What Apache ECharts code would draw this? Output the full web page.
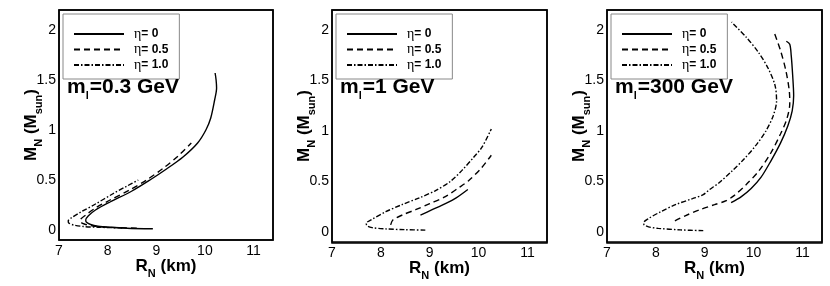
<!DOCTYPE html>
<html><head><meta charset="utf-8">
<script src="https://cdn.jsdelivr.net/npm/echarts@6/dist/echarts.min.js"></script>
<style>
html,body{margin:0;padding:0;background:#fff}
#wrap{position:relative;width:830px;height:286px}
#c,#t{position:absolute;left:0;top:0;width:830px;height:286px}
#t{pointer-events:none}
</style>
</head><body><div id="wrap"><div id="c"></div><div id="t"></div></div>
<script>
// ---------- data ----------
const xTicks = [7, 8, 9, 10, 11];
const yTicks = [0, 0.5, 1, 1.5, 2];
const seriesNames = ['η= 0', 'η= 0.5', 'η= 1.0'];
const panelMasses = ['0.3 GeV', '1 GeV', '300 GeV'];

// panel 1: m_l = 0.3 GeV   points are [R_N (km), M_N (M_sun)]
const p1Eta0 = [[8.93,0.013],[8.4,0.018],[8.05,0.027],[7.8,0.038],[7.65,0.055],[7.56,0.08],[7.55,0.1],[7.6,0.14],[7.75,0.2],[8.05,0.28],[8.5,0.39],[8.87,0.5],[9.21,0.61],[9.55,0.73],[9.85,0.87],[10.02,1.0],[10.12,1.12],[10.2,1.3],[10.24,1.42],[10.23,1.5],[10.21,1.57]];
const p1Eta05 = [[8.6,0.018],[8.0,0.028],[7.7,0.04],[7.52,0.06],[7.44,0.085],[7.45,0.11],[7.55,0.15],[7.75,0.22],[8.05,0.3],[8.45,0.4],[8.8,0.5],[9.15,0.62],[9.45,0.74],[9.72,0.87]];
const p1Eta10 = [[8.3,0.02],[7.8,0.028],[7.5,0.035],[7.3,0.05],[7.2,0.07],[7.19,0.09],[7.25,0.12],[7.45,0.18],[7.75,0.26],[8.1,0.36],[8.4,0.44],[8.63,0.5]];

// panel 2: m_l = 1 GeV
const p2Eta0 = [[8.81,0.167],[9.05,0.22],[9.32,0.28],[9.55,0.34],[9.78,0.42]];
const p2Eta05 = [[8.2,0.07],[8.25,0.12],[8.45,0.17],[8.71,0.22],[9.0,0.28],[9.32,0.35],[9.6,0.44],[9.8,0.51],[10.05,0.63],[10.26,0.76]];
const p2Eta10 = [[8.91,0.018],[8.5,0.022],[8.09,0.03],[7.82,0.042],[7.72,0.06],[7.7,0.085],[7.8,0.12],[8.1,0.2],[8.43,0.27],[8.8,0.34],[9.12,0.41],[9.42,0.5],[9.66,0.61],[9.9,0.74],[10.07,0.84],[10.26,1.02]];

// panel 3: m_l = 300 GeV
const p3Eta0 = [[9.54,0.29],[9.75,0.35],[9.95,0.43],[10.15,0.54],[10.35,0.7],[10.55,0.88],[10.7,1.05],[10.79,1.2],[10.82,1.35],[10.8,1.55],[10.77,1.75],[10.74,1.86],[10.67,1.89]];
const p3Eta05 = [[8.39,0.11],[8.6,0.16],[8.9,0.22],[9.2,0.27],[9.44,0.31],[9.6,0.36],[9.85,0.47],[10.1,0.6],[10.35,0.78],[10.55,0.97],[10.68,1.12],[10.74,1.27],[10.73,1.4],[10.66,1.6],[10.55,1.8],[10.42,1.98]];
const p3Eta10 = [[8.97,0.013],[8.5,0.02],[8.05,0.035],[7.85,0.05],[7.76,0.07],[7.75,0.09],[7.84,0.13],[8.1,0.2],[8.4,0.27],[8.75,0.33],[8.97,0.37],[9.1,0.42],[9.3,0.49],[9.55,0.6],[9.8,0.72],[10.05,0.86],[10.25,1.0],[10.4,1.15],[10.47,1.3],[10.44,1.45],[10.3,1.62],[10.1,1.78],[9.85,1.93],[9.55,2.08]];

const panelData = [[p1Eta0, p1Eta05, p1Eta10],[p2Eta0, p2Eta05, p2Eta10],[p3Eta0, p3Eta05, p3Eta10]];

// ---------- layout / style ----------
const grids = [
  {left: 59, top: 10, width: 214, height: 230},
  {left: 332, top: 10, width: 215, height: 233},
  {left: 607, top: 10, width: 215, height: 233}
];
const lineTypes = ['solid', [6, 4], [5, 2, 1.5, 2]];
const FONT = 'Liberation Sans, Arial, sans-serif';
const xMin = 7, xMax = 11.4, yMin = -0.1, yMax = 2.2;

function isMajor(v, list) { return list.some(t => Math.abs(t - v) < 1e-6); }

const nameRich = {
  b: {fontFamily: FONT, fontSize: 17, fontWeight: 'bold', color: '#000', lineHeight: 19, verticalAlign: 'top'},
  s: {fontFamily: FONT, fontSize: 11, fontWeight: 'bold', color: '#000', lineHeight: 11, padding: [10, 0, 0, 0], verticalAlign: 'top'}
};

// ---------- main chart: curves, labels, names, legends, panel titles ----------
const option = {
  animation: false,
  grid: grids.map(g => Object.assign({show: true, borderColor: '#000', borderWidth: 1.5}, g)),
  xAxis: [], yAxis: [], series: [], legend: [], title: []
};

grids.forEach((g, p) => {
  option.xAxis.push({
    type: 'value', gridIndex: p, min: xMin, max: xMax, interval: 0.2, position: 'bottom',
    axisLine: {show: false, onZero: false}, splitLine: {show: false}, axisTick: {show: false},
    axisLabel: {show: true, margin: 4, color: '#000', fontFamily: FONT, fontSize: 14,
      showMaxLabel: false,
      formatter: v => isMajor(v, xTicks) ? String(Math.round(v)) : ''},
    name: '{b|R}{s|N}{b| (km)}', nameLocation: 'middle', nameGap: 18, nameMoveOverlap: false,
    nameTextStyle: {rich: nameRich}
  });
  option.yAxis.push({
    type: 'value', gridIndex: p, min: yMin, max: yMax, interval: 0.1, position: 'left',
    axisLine: {show: false, onZero: false}, splitLine: {show: false}, axisTick: {show: false},
    axisLabel: {show: true, margin: 3, color: '#000', fontFamily: FONT, fontSize: 14,
      showMinLabel: false, showMaxLabel: false,
      formatter: v => isMajor(v, yTicks) ? String(Math.round(v * 10) / 10) : ''},
    name: '{b|M}{s|N}{b| (M}{s|sun}{b|)}', nameLocation: 'middle', nameGap: 17, nameRotate: 90, nameMoveOverlap: false,
    nameTextStyle: {rich: nameRich}
  });

  panelData[p].forEach((d, k) => {
    option.series.push({
      type: 'line', name: seriesNames[k], xAxisIndex: p, yAxisIndex: p,
      data: d, symbol: 'none', smooth: 0.3,
      lineStyle: {color: '#000', width: 1.4, type: lineTypes[k]},
      itemStyle: {color: '#000'}
    });
  });

  option.legend.push({
    data: seriesNames, orient: 'vertical', left: g.left + 4, top: g.top + 4,
    itemWidth: 50, itemHeight: 12, itemGap: 1.5,
    padding: [13, 11, 7, 10],
    borderColor: '#888', borderWidth: 1, backgroundColor: '#fff',
    selectedMode: false,
    itemStyle: {color: 'rgba(0,0,0,0)', borderWidth: 0, opacity: 0},
    formatter: n => '{e|' + n.charAt(0) + '}{b|' + n.slice(1) + '}',
    textStyle: {
      rich: {
        e: {fontFamily: 'Liberation Serif, serif', fontSize: 14, color: '#000', lineHeight: 12, padding: [0, 0, 0, 5]},
        b: {fontFamily: FONT, fontSize: 12, fontWeight: 'bold', color: '#000', lineHeight: 12}
      }
    }
  });

  option.title.push({
    text: '{m|m}{s|l}{m|=' + panelMasses[p] + '}',
    left: g.left + 8, top: 77, padding: 0,
    textStyle: {
      rich: {
        m: {fontFamily: FONT, fontSize: 21, fontWeight: 'bold', color: '#000', lineHeight: 22, verticalAlign: 'top'},
        s: {fontFamily: FONT, fontSize: 11, fontWeight: 'bold', color: '#000', lineHeight: 11, padding: [13, 1, 0, 0], verticalAlign: 'top'}
      }
    }
  });
});

echarts.init(document.getElementById('c'), null, {renderer: 'canvas'}).setOption(option);

// ---------- tick layer: same grids and scales, only the inward tick marks ----------
const tickOption = {
  animation: false,
  grid: grids.map(g => Object.assign({show: true, borderColor: '#000', borderWidth: 1.5}, g)),
  xAxis: [], yAxis: [], series: []
};
grids.forEach((g, p) => {
  // minor ticks (every scale step)
  tickOption.xAxis.push({type: 'value', gridIndex: p, min: xMin, max: xMax, interval: 0.2,
    axisLine: {show: false, onZero: false}, splitLine: {show: false}, axisLabel: {show: false},
    axisTick: {show: true, inside: true, length: 3, lineStyle: {color: '#000', width: 1}}});
  tickOption.yAxis.push({type: 'value', gridIndex: p, min: yMin, max: yMax, interval: 0.1,
    axisLine: {show: false, onZero: false}, splitLine: {show: false}, axisLabel: {show: false},
    axisTick: {show: true, inside: true, length: 3, lineStyle: {color: '#000', width: 1}}});
});
grids.forEach((g, p) => {
  // major ticks at the labelled values
  tickOption.xAxis.push({type: 'value', gridIndex: p, min: xMin, max: xMax, interval: 0.2, position: 'bottom',
    axisLine: {show: false, onZero: false}, splitLine: {show: false}, axisLabel: {show: false},
    axisTick: {show: true, inside: true, length: 6, customValues: xTicks, lineStyle: {color: '#000', width: 1}}});
  tickOption.yAxis.push({type: 'value', gridIndex: p, min: yMin, max: yMax, interval: 0.1, position: 'left',
    axisLine: {show: false, onZero: false}, splitLine: {show: false}, axisLabel: {show: false},
    axisTick: {show: true, inside: true, length: 6, customValues: yTicks, lineStyle: {color: '#000', width: 1}}});
  tickOption.series.push({type: 'line', xAxisIndex: p, yAxisIndex: p, data: panelData[p][0],
    symbol: 'none', silent: true, lineStyle: {opacity: 0}});
});
echarts.init(document.getElementById('t'), null, {renderer: 'canvas'}).setOption(tickOption);
</script></body></html>
